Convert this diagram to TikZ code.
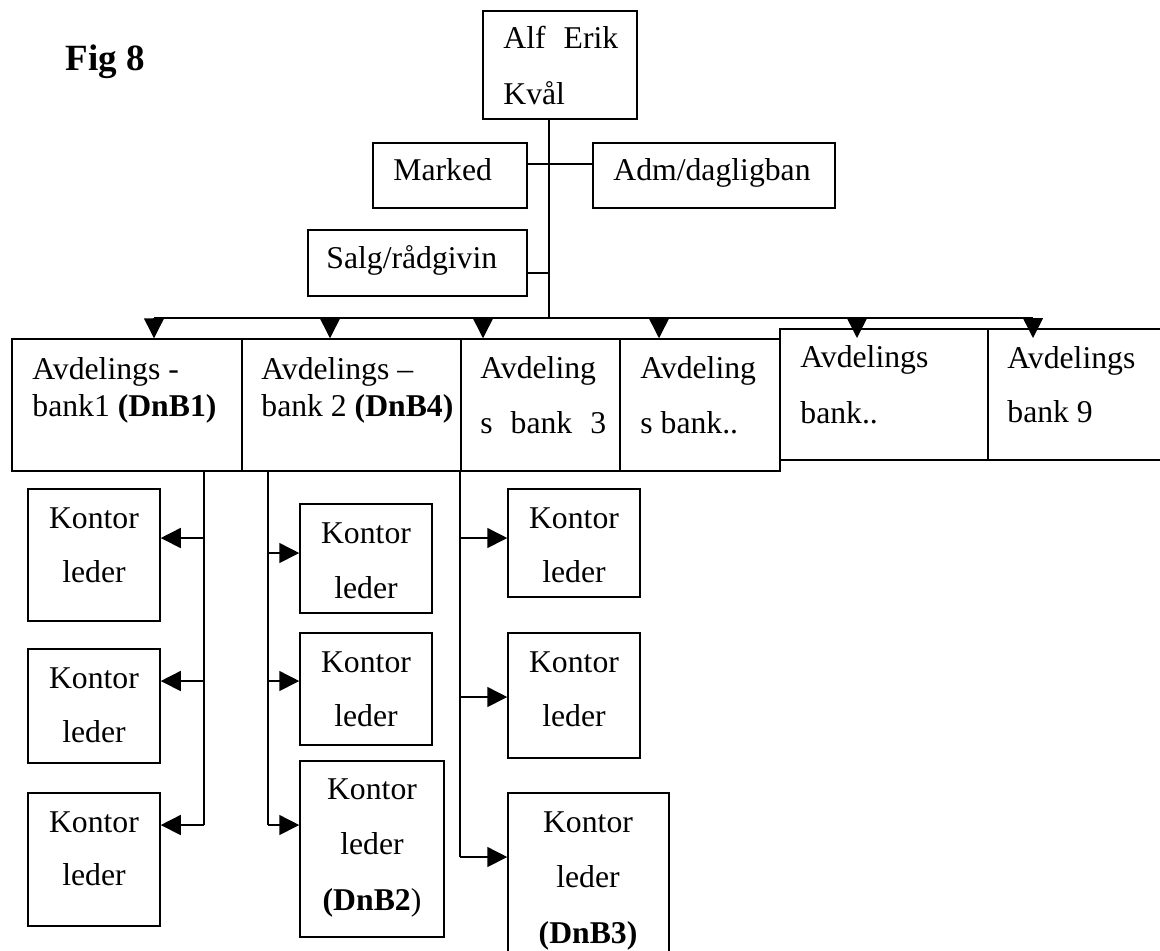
\documentclass[tikz,border=0pt]{standalone}
\usepackage{fontspec}
\setmainfont{Liberation Serif}
\usetikzlibrary{arrows.meta,fit}
\begin{document}
\begin{tikzpicture}[x=0.5pt,y=-0.5pt,
  box/.style={draw, line width=0.75pt, inner sep=0pt},
  txt/.style={inner sep=0pt, anchor=base west, font=\fontsize{15.85}{19}\selectfont},
  ctxt/.style={txt, anchor=base},
  link/.style={line width=0.75pt},
  arr/.style={link, -{Triangle[length=10pt,width=10pt]}}]
\clip (0,0) rectangle (1160,950);

% title
\node[txt, font=\fontsize{18.5}{22}\selectfont\bfseries] (title) at (65,70) {Fig 8};

% top level
\node[box, fit={(483,11) (637,119)}] (alf) {};
\node[txt] (alf1) at (503,48) {Alf\hspace{9pt}Erik};
\node[txt] (alf2) at (503,104) {Kvål};

\node[box, fit={(373,143) (527,208)}] (mk) {};
\node[txt] (mkt) at (393,180) {Marked};
\node[box, fit={(593,143) (835,208)}] (adm) {};
\node[txt] (admt) at (613,180) {Adm/dagligban};
\node[box, fit={(308,230) (527,296)}] (sg) {};
\node[txt] (sgt) at (326,268) {Salg/rådgivin};

% branch banks
\node[box, fit={(12,339) (242,471)}] (b1) {};
\node[txt] (b1a) at (32,379) {Avdelings -};
\node[txt] (b1b) at (32,416) {bank1 \textbf{(DnB1)}};
\node[box, fit={(242,339) (461,471)}] (b2) {};
\node[txt] (b2a) at (261,379) {Avdelings –};
\node[txt] (b2b) at (261,416) {bank 2 \textbf{(DnB4)}};
\node[box, fit={(461,339) (620,471)}] (b3) {};
\node[txt] (b3a) at (480,378) {Avdeling};
\node[txt] (b3b) at (480,433) {s\hspace{9pt}bank\hspace{9pt}3};
\node[box, fit={(620,339) (780,471)}] (b4) {};
\node[txt] (b4a) at (640,378) {Avdeling};
\node[txt] (b4b) at (640,433) {s bank..};
\node[box, fit={(780,329) (988,460)}] (b5) {};
\node[txt] (b5a) at (800,367) {Avdelings};
\node[txt] (b5b) at (800,423) {bank..};
\node[box, fit={(988,329) (1170,460)}] (b6) {};
\node[txt] (b6a) at (1007,368) {Avdelings};
\node[txt] (b6b) at (1007,422) {bank 9};

% office managers, first column
\node[box, fit={(28,489) (160,621)}] (k11) {};
\node[ctxt] at (94,528) {Kontor};
\node[ctxt] at (94,582) {leder};
\node[box, fit={(28,649) (160,763)}] (k12) {};
\node[ctxt] at (94,688) {Kontor};
\node[ctxt] at (94,742) {leder};
\node[box, fit={(28,793) (160,926)}] (k13) {};
\node[ctxt] at (94,832) {Kontor};
\node[ctxt] at (94,885) {leder};

% second column
\node[box, fit={(300,504) (432,613)}] (k21) {};
\node[ctxt] at (366,543) {Kontor};
\node[ctxt] at (366,598) {leder};
\node[box, fit={(300,633) (432,745)}] (k22) {};
\node[ctxt] at (366,672) {Kontor};
\node[ctxt] at (366,726) {leder};
\node[box, fit={(300,761) (444,937)}] (k23) {};
\node[ctxt] at (372,799) {Kontor};
\node[ctxt] at (372,854) {leder};
\node[ctxt] at (372,910) {\textbf{(DnB2})};

% third column
\node[box, fit={(508,489) (640,597)}] (k31) {};
\node[ctxt] at (574,528) {Kontor};
\node[ctxt] at (574,582) {leder};
\node[box, fit={(508,633) (640,758)}] (k32) {};
\node[ctxt] at (574,672) {Kontor};
\node[ctxt] at (574,726) {leder};
\node[box, fit={(508,793) (669,1000)}] (k33) {};
\node[ctxt] at (588,832) {Kontor};
\node[ctxt] at (588,887) {leder};
\node[ctxt] at (588,943) {\textbf{(DnB3)}};

% trunk and staff links
\coordinate (tk) at (549,318);
\coordinate (tm) at (549,164);
\coordinate (ts) at (549,273);
\draw[link] (tk |- alf.south) -- (tk);
\draw[link] (mk.east |- tm) -- (adm.west |- tm);
\draw[link] (sg.east |- ts) -- (ts);

% distribution bus to the branch banks
\coordinate (u1) at (154,318);
\coordinate (u2) at (330,318);
\coordinate (u3) at (483,318);
\coordinate (u4) at (659,318);
\coordinate (u5) at (857,318);
\coordinate (u6) at (1033,318);
\draw[link] (u1) -- (u6);
\draw[arr] (u1) -- (u1 |- b1.north);
\draw[arr] (u2) -- (u2 |- b2.north);
\draw[arr] (u3) -- (u3 |- b3.north);
\draw[arr] (u4) -- (u4 |- b4.north);
\draw[arr] (u5) -- ++(0,20);
\draw[arr] (u6) -- ++(0,20);

% first column connectors
\coordinate (c1) at (204,825);
\draw[link] (c1 |- b1.south) -- (c1);
\draw[arr] (204,538) coordinate (c11) -- (c11 -| k11.east);
\draw[arr] (204,681) coordinate (c12) -- (c12 -| k12.east);
\draw[arr] (c1) -- (c1 -| k13.east);

% second column connectors
\coordinate (c2) at (268,825);
\draw[link] (c2 |- b2.south) -- (c2);
\draw[arr] (268,553) coordinate (c21) -- (c21 -| k21.west);
\draw[arr] (268,681) coordinate (c22) -- (c22 -| k22.west);
\draw[arr] (c2) -- (c2 -| k23.west);

% third column connectors
\coordinate (c3) at (460,857);
\draw[link] (c3 |- b3.south) -- (c3);
\draw[arr] (460,538) coordinate (c31) -- (c31 -| k31.west);
\draw[arr] (460,697) coordinate (c32) -- (c32 -| k32.west);
\draw[arr] (c3) -- (c3 -| k33.west);
\end{tikzpicture}
\end{document}
